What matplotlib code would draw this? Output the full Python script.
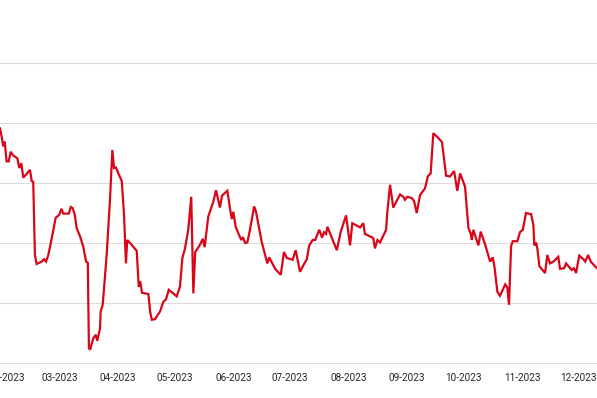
import numpy as np
import pandas as pd
import matplotlib
matplotlib.use("Agg")
import matplotlib.pyplot as plt
import matplotlib.dates as mdates

# day offsets from 2023-01-01 and values
days = [27.4, 28.3, 29.1, 29.9, 30.9, 32.0, 33.1, 34.4, 36.6, 37.6, 38.7, 39.7,
        41.5, 43.3, 44.2, 45.0, 45.9, 46.8, 49.5, 50.7, 51.8, 53.0, 54.8, 56.9,
        58.8, 59.9, 60.9, 63.8, 64.9, 65.9, 67.0, 68.0, 69.8, 71.5, 73.0, 73.9,
        74.5, 75.1, 76.8, 78.1, 78.9, 80.4, 80.7, 81.8, 83.9, 85.7, 86.9, 87.8,
        88.8, 90.1, 91.9, 93.1, 94.1, 94.8, 96.3, 99.8, 100.9, 101.7, 102.6,
        106.0, 106.9, 107.8, 109.5, 112.2, 113.9, 115.3, 116.8, 119.2, 121.0,
        122.7, 124.0, 125.4, 127.1, 128.7, 129.8, 130.8, 132.1, 133.3, 134.8,
        135.8, 137.7, 140.4, 141.8, 143.9, 145.0, 147.8, 150.1, 151.0, 152.2,
        154.2, 155.2, 156.0, 157.2, 158.4, 159.8, 162.0, 163.0, 166.0, 169.0,
        170.0, 173.1, 176.1, 177.8, 179.3, 182.4, 184.0, 186.3, 188.1, 189.9,
        191.2, 193.0, 194.3, 196.5, 198.0, 199.0, 200.1, 200.8, 203.1, 205.8,
        207.9, 210.7, 212.8, 214.0, 218.1, 219.8, 220.7, 223.4, 225.1, 226.0,
        227.3, 228.7, 230.4, 231.9, 232.5, 234.0, 235.7, 239.3, 241.0, 241.9,
        243.1, 245.5, 246.7, 248.1, 249.9, 252.5, 254.0, 255.5, 256.9, 259.6,
        261.5, 263.7, 265.8, 267.9, 269.6, 271.1, 273.7, 275.5, 276.7, 277.3,
        278.1, 280.8, 282.0, 284.3, 287.0, 288.4, 289.4, 290.8, 292.2, 293.1,
        295.0, 296.1, 297.0, 298.1, 299.0, 301.4, 302.8, 304.3, 306.0, 308.7,
        309.9, 310.4, 311.3, 312.0, 313.1, 316.1, 317.3, 318.7, 320.5, 323.1,
        324.0, 326.2, 327.2, 330.2, 331.4, 332.5, 334.2, 336.4, 337.4, 338.9,
        340.3, 342.6, 343.6]
values = [39.1, 37.7, 36.1, 36.9, 33.6, 33.6, 35.2, 34.6, 34.1, 32.5, 33.3, 30.9,
          31.5, 32.2, 30.3, 30.2, 18.0, 16.5, 16.9, 17.3, 16.9, 18.0, 20.8, 24.2,
          24.7, 25.7, 24.9, 24.9, 26.0, 25.8, 24.7, 22.5, 21.1, 19.4, 16.9, 16.7,
          2.5, 2.2, 4.1, 4.7, 3.7, 5.8, 8.6, 9.7, 18.0, 27.5, 35.5, 32.5,
          32.6, 31.6, 30.3, 24.7, 16.6, 20.5, 20.0, 18.7, 12.7, 13.6, 11.7,
          11.5, 8.6, 7.2, 7.3, 8.6, 10.2, 10.6, 12.2, 11.6, 11.1,
          12.7, 17.5, 19.1, 22.2, 27.7, 11.6, 18.5, 19.1, 19.7, 20.7,
          19.3, 24.4, 26.9, 28.8, 25.9, 27.9, 28.7, 24.0, 25.2, 22.7,
          21.2, 20.5, 21.0, 20.0, 20.1, 22.2, 26.1, 25.2, 20.2, 16.6,
          17.6, 15.7, 14.7, 18.5, 17.5, 17.2, 18.8, 15.2, 16.3, 17.3,
          19.6, 20.5, 20.5, 22.2, 20.9, 21.8, 21.5, 22.7, 20.9, 18.8,
          21.9, 24.6, 19.6, 23.3, 22.6, 23.3, 21.5, 21.1, 20.8, 19.1,
          20.5, 20.1, 21.2, 22.2, 25.0, 29.7, 25.9, 28.1, 27.7, 27.2,
          27.7, 27.5, 27.0, 25.0, 28.0, 29.1, 31.1, 31.6, 38.3, 37.5,
          36.8, 31.2, 31.1, 32.0, 28.7, 31.6, 29.4, 22.5, 21.6, 20.5,
          22.2, 19.6, 21.9, 19.8, 16.9, 17.6, 15.8, 11.9, 11.2, 11.8,
          13.1, 12.6, 9.7, 19.5, 20.3, 20.3, 21.8, 22.2, 25.0, 24.8,
          23.0, 19.6, 20.1, 19.1, 16.1, 15.0, 18.0, 16.6, 16.9, 17.7,
          15.7, 15.8, 16.6, 15.5, 15.8, 15.0, 17.9, 17.3, 16.9, 18.0,
          16.9, 16.1, 15.8]

start = pd.Timestamp("2023-01-01")
dates = start + pd.to_timedelta(days, unit="D")
xlim = [start + pd.Timedelta(days=27.4), start + pd.Timedelta(days=343.6)]

plt.rcParams["font.family"] = ["Liberation Sans Narrow", "Roboto", "DejaVu Sans"]

fig = plt.figure(figsize=(5.97, 3.98), dpi=100)
ax = fig.add_axes([0, 35 / 398, 1, 360 / 398])

ax.plot(dates, values, color="#d9061a", lw=1.6, solid_joinstyle="miter")

ax.set_xlim(xlim)
ax.set_ylim(0, 60)
ax.set_yticks([10, 20, 30, 40, 50])
ax.yaxis.grid(True, color="#dcdcdc", lw=0.8)
ax.set_axisbelow(True)
ax.tick_params(axis="y", left=False, labelleft=False)

ax.xaxis.set_major_locator(mdates.MonthLocator())
ax.xaxis.set_major_formatter(mdates.DateFormatter("%m-%Y"))
ax.tick_params(axis="x", length=0, pad=7, labelsize=7.2, labelcolor="#262626")

for s in ["top", "left", "right"]:
    ax.spines[s].set_visible(False)
ax.spines["bottom"].set_color("#dcdcdc")
ax.spines["bottom"].set_linewidth(0.8)

fig.savefig("out.png", dpi=100)
